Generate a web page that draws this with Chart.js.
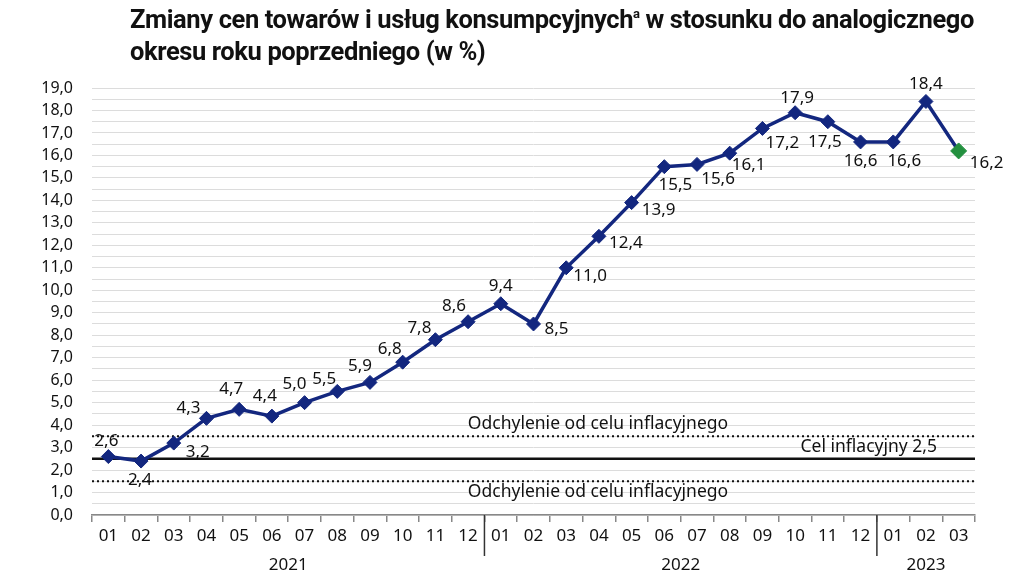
<!DOCTYPE html>
<html>
<head>
<meta charset="utf-8">
<script src="https://cdn.jsdelivr.net/npm/chart.js@4"></script>
<style>
  body { margin: 0; background: #fff; }
  #wrap { position: relative; width: 1024px; height: 587px; }
  #title {
    position: absolute; left: 130px; top: 3px;
    font-family: Roboto, sans-serif; font-weight: 700; font-size: 25.5px;
    line-height: 32px; color: #111; letter-spacing: -0.4px;
  }
  #title sup { font-size: 13px; vertical-align: 10px; line-height: 0; }
  canvas { position: absolute; left: 0; top: 0; }
</style>
</head>
<body>
<div id="wrap">
  <canvas id="cpi" width="1024" height="587"></canvas>
  <div id="title">Zmiany cen towarów i usług konsumpcyjnych<sup>a</sup> w stosunku do analogicznego<br>okresu roku poprzedniego (w %)</div>
</div>
<script>
// months (x categories)
const MONTHS = ['01','02','03','04','05','06','07','08','09','10','11','12',
                '01','02','03','04','05','06','07','08','09','10','11','12',
                '01','02','03'];
const YEARS = ['2021', '2022', '2023'];
const YEAR_SPANS = [12, 12, 3];

// CPI y/y, %
const CPI = [2.6, 2.4, 3.2, 4.3, 4.7, 4.4, 5.0, 5.5, 5.9, 6.8, 7.8, 8.6,
             9.4, 8.5, 11.0, 12.4, 13.9, 15.5, 15.6, 16.1, 17.2, 17.9, 17.5, 16.6,
             16.6, 18.4, 16.2];

// inflation target and tolerance band
const TARGET = 2.5;
const BAND = [1.5, 3.5];
const TARGET_LABEL = 'Cel inflacyjny 2,5';
const BAND_LABEL = 'Odchylenie od celu inflacyjnego';

const Y_MIN = 0, Y_MAX = 19, Y_STEP = 0.5;

// where each value label sits relative to its marker
const LABEL_OFFSETS = [
  [-2,-15], [-1,19], [24,9], [-18,-10], [-8,-20], [-7,-20], [-10,-18], [-13,-12],
  [-10,-16], [-13,-13], [-16,-12], [-14,-16], [0,-18], [23,5], [24,8], [27,7],
  [27,8], [11,18], [21,15], [19,12], [20,15], [2,-15], [-3,20], [0,19],
  [11,19], [0,-17], [28,12]
];

const NAVY = '#13277f';
const GREEN = '#23903f';
const INK = '#111';
const fmt = v => v.toFixed(1).replace('.', ',');
const FONT = '"Noto Sans", sans-serif';

const pointColors = CPI.map((v, i) => i === CPI.length - 1 ? GREEN : NAVY);
const pointSizes = CPI.map((v, i) => i === CPI.length - 1 ? 8 : 7);

const refLines = {
  id: 'refLines',
  beforeDatasetsDraw(chart) {
    const { ctx, chartArea: a, scales: { y } } = chart;
    ctx.save();
    ctx.strokeStyle = '#111';
    // target
    ctx.lineWidth = 2.5;
    ctx.beginPath();
    ctx.moveTo(a.left, y.getPixelForValue(TARGET));
    ctx.lineTo(a.right, y.getPixelForValue(TARGET));
    ctx.stroke();
    // band
    ctx.lineWidth = 2;
    ctx.setLineDash([2, 3]);
    BAND.forEach(v => {
      ctx.beginPath();
      ctx.moveTo(a.left, y.getPixelForValue(v));
      ctx.lineTo(a.right, y.getPixelForValue(v));
      ctx.stroke();
    });
    ctx.setLineDash([]);
    ctx.fillStyle = INK;
    ctx.font = '17.5px ' + FONT;
    ctx.textBaseline = 'middle';
    ctx.textAlign = 'center';
    const cx = 598;
    ctx.fillText(BAND_LABEL, cx, y.getPixelForValue(BAND[1]) - 12);
    ctx.fillText(BAND_LABEL, cx, y.getPixelForValue(BAND[0]) + 11);
    ctx.textAlign = 'right';
    ctx.fillText(TARGET_LABEL, 937, y.getPixelForValue(TARGET) - 12);
    ctx.restore();
  }
};

const valueLabels = {
  id: 'valueLabels',
  afterDatasetsDraw(chart) {
    const { ctx } = chart;
    const meta = chart.getDatasetMeta(0);
    ctx.save();
    ctx.fillStyle = INK;
    ctx.font = '17px ' + FONT;
    ctx.textAlign = 'center';
    ctx.textBaseline = 'middle';
    meta.data.forEach((pt, i) => {
      const [dx, dy] = LABEL_OFFSETS[i];
      ctx.fillText(fmt(CPI[i]), pt.x + dx, pt.y + dy);
    });
    ctx.restore();
  }
};

const yearAxis = {
  id: 'yearAxis',
  afterDraw(chart) {
    const { ctx, chartArea: a, scales: { x } } = chart;
    ctx.save();
    ctx.strokeStyle = '#333';
    ctx.lineWidth = 1.5;
    ctx.fillStyle = INK;
    ctx.font = '17px ' + FONT;
    ctx.textAlign = 'center';
    ctx.textBaseline = 'middle';
    let start = 0;
    YEARS.forEach((yr, k) => {
      const end = start + YEAR_SPANS[k] - 1;
      const mid = (x.getPixelForValue(start) + x.getPixelForValue(end)) / 2;
      ctx.fillText(yr, mid, 565);
      if (k < YEARS.length - 1) {
        const sx = (x.getPixelForValue(end) + x.getPixelForValue(end + 1)) / 2;
        ctx.beginPath();
        ctx.moveTo(sx, a.bottom);
        ctx.lineTo(sx, 556);
        ctx.stroke();
      }
      start = end + 1;
    });
    ctx.restore();
  }
};

new Chart(document.getElementById('cpi'), {
  type: 'line',
  data: {
    labels: MONTHS,
    datasets: [{
      data: CPI,
      borderColor: NAVY,
      borderWidth: 3.5,
      pointStyle: 'rectRot',
      pointRadius: pointSizes,
      pointBackgroundColor: pointColors,
      pointBorderColor: pointColors,
      pointBorderWidth: 1,
      tension: 0
    }]
  },
  options: {
    responsive: false,
    animation: false,
    layout: { padding: { top: 88, right: 49, left: 0, bottom: 0 } },
    plugins: { legend: { display: false }, tooltip: { enabled: false } },
    scales: {
      x: {
        offset: true,
        afterFit: s => { s.height = 72; },
        grid: { offset: true, drawOnChartArea: false, drawTicks: true, tickLength: 7, color: '#888', lineWidth: 1.5 },
        border: { color: '#888', width: 1.5 },
        ticks: { color: INK, font: { family: FONT, size: 17 }, padding: 4, autoSkip: false, maxRotation: 0 }
      },
      y: {
        min: Y_MIN, max: Y_MAX,
        afterFit: s => { s.width = 92; },
        grid: { color: '#dcdcdc', lineWidth: 1, drawTicks: false },
        border: { display: false },
        ticks: {
          stepSize: Y_STEP,
          color: INK,
          font: { family: FONT, size: 16 },
          padding: 19,
          autoSkip: false,
          callback: v => Number.isInteger(v) ? fmt(v) : ''
        }
      }
    }
  },
  plugins: [refLines, valueLabels, yearAxis]
});
</script>
</body>
</html>
